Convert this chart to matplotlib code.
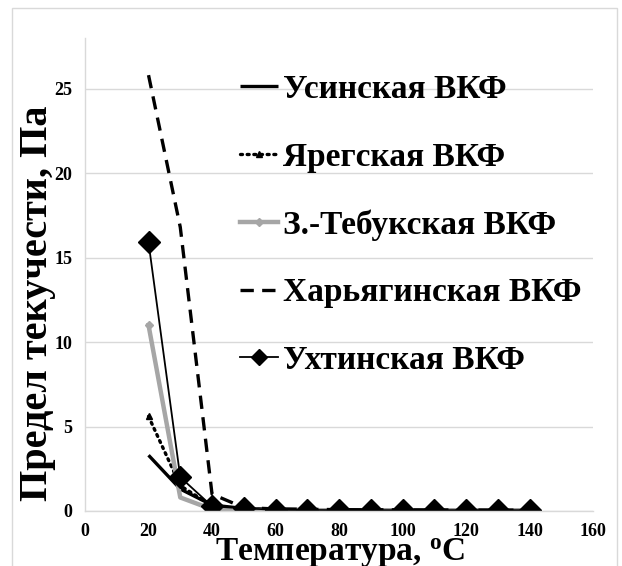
import matplotlib
matplotlib.use("Agg")
import matplotlib.pyplot as plt
from matplotlib.patches import Rectangle

plt.rcParams['font.family'] = ['Liberation Serif', 'DejaVu Serif']
plt.rcParams['font.weight'] = 'bold'
plt.rcParams['mathtext.fontset'] = 'custom'
plt.rcParams['mathtext.rm'] = 'Liberation Serif:bold'
plt.rcParams['mathtext.default'] = 'rm'

temps = [20, 30, 40, 50, 60, 70, 80, 90, 100, 110, 120, 130, 140]
usinsk = [3.3, 1.3, 0.35, 0.15, 0.1, 0.08, 0.07, 0.06, 0.06, 0.05, 0.05, 0.05, 0.05]
yaregsk = [5.6, 1.5, 0.3, 0.12, 0.08, 0.06, 0.05, 0.05, 0.05, 0.05, 0.04, 0.04, 0.04]
tebuk = [11.0, 0.8, 0.1, 0.06, 0.05, 0.05, 0.04, 0.04, 0.04, 0.04, 0.04, 0.04, 0.04]
kharyag = [25.8, 16.8, 1.0, 0.2, 0.12, 0.1, 0.08, 0.07, 0.07, 0.06, 0.06, 0.05, 0.05]
ukhta = [15.9, 2.0, 0.28, 0.15, 0.08, 0.06, 0.05, 0.05, 0.05, 0.05, 0.05, 0.05, 0.05]

labels = ['Усинская ВКФ', 'Ярегская ВКФ', 'З.-Тебукская ВКФ', 'Харьягинская ВКФ', 'Ухтинская ВКФ']
xticks = [0, 20, 40, 60, 80, 100, 120, 140, 160]
yticks = [0, 5, 10, 15, 20, 25]

fig = plt.figure(figsize=(6.22, 5.66), dpi=100)
fig.patches.append(Rectangle((0.0193, -0.02), 0.9727, 1.0059, transform=fig.transFigure,
                             fill=False, edgecolor='#d9d9d9', linewidth=1.0))
ax = fig.add_axes([0.1367, 0.0972, 0.8167, 0.8357])

ax.plot(temps, usinsk, color='black', lw=2.4, label=labels[0], solid_capstyle='butt')
ax.plot(temps, yaregsk, color='black', lw=2.4, linestyle=(0, (0.6, 1.4)), dash_capstyle='round',
        marker='^', markersize=5, markevery=[0], label=labels[1])
ax.plot(temps, tebuk, color='#a6a6a6', lw=3.2, marker='D', markersize=4.5, markevery=[0],
        label=labels[2])
ax.plot(temps, kharyag, color='black', lw=2.4, linestyle=(0, (4, 2.5)), label=labels[3])
ax.plot(temps, ukhta, color='black', lw=1.3, marker='D', markersize=11, label=labels[4])

ax.set_xlim(0, 160)
ax.set_ylim(0, 28)
ax.set_xticks(xticks)
ax.set_yticks(yticks)
ax.tick_params(axis='x', length=0, labelsize=13, pad=9)
ax.tick_params(axis='y', length=0, labelsize=13, pad=9)
for lab in ax.get_xticklabels() + ax.get_yticklabels():
    lab.set_fontweight('bold')
ax.grid(axis='y', color='#d9d9d9', lw=1.0)
ax.set_axisbelow(True)
for s in ['top', 'right']:
    ax.spines[s].set_visible(False)
for s in ['left', 'bottom']:
    ax.spines[s].set_color('#d9d9d9')
    ax.spines[s].set_linewidth(1.0)

fig.text(0.547, 0.022, 'Температура, $^{o}$C', ha='center', va='center', fontsize=24, fontweight='bold')
fig.text(0.061, 0.465, 'Предел текучести, Па', ha='center', va='center', rotation=90,
         fontsize=29, fontweight='bold')

leg = ax.legend(loc='center left', bbox_to_anchor=(0.386, 0.6025), bbox_transform=fig.transFigure,
                frameon=False, prop={'size': 24, 'weight': 'bold'}, handlelength=1.15,
                handletextpad=0.15, labelspacing=1.1, borderaxespad=0, borderpad=0)
for h in leg.legend_handles:
    if h.get_marker() == 'D' and h.get_markersize() > 8:
        h.set_markersize(8)

fig.savefig('out.png', dpi=100)
